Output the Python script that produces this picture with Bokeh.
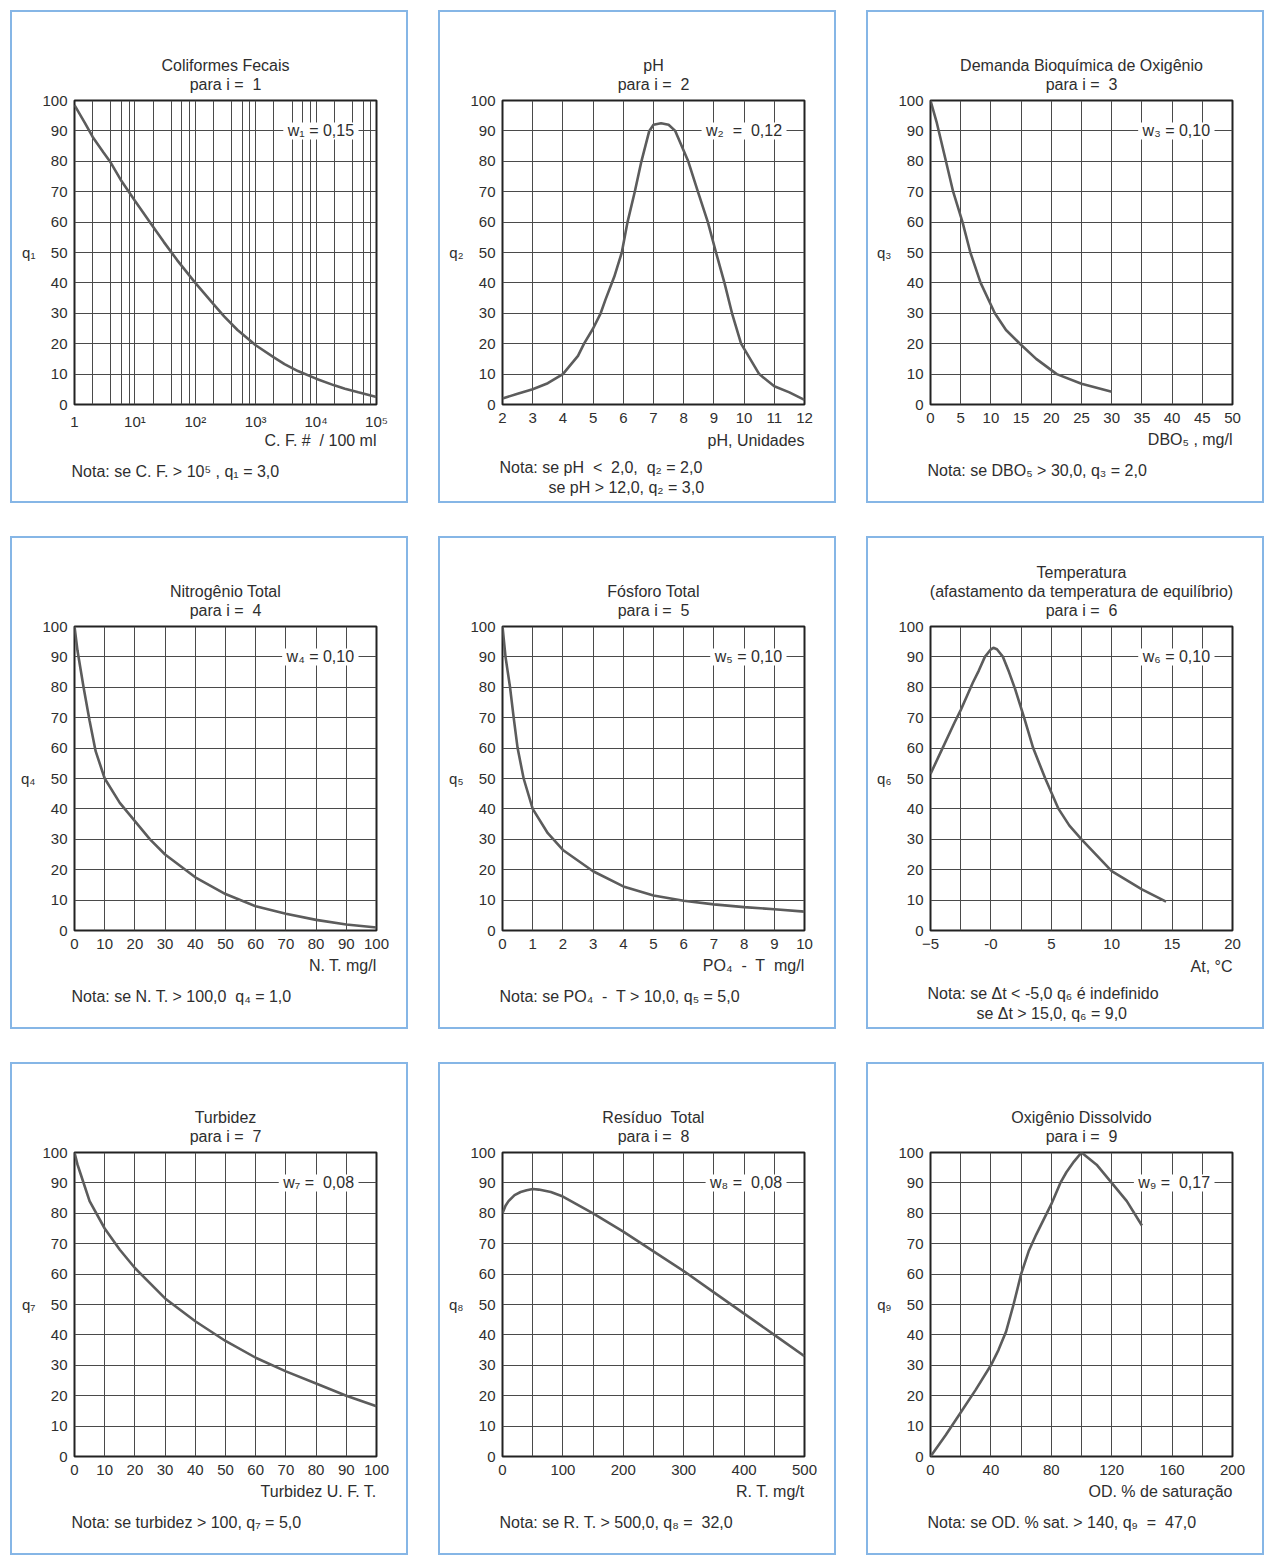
from bokeh.plotting import figure
from bokeh.models import Range1d, FixedTicker, Label, Title
from bokeh.layouts import column, row
from bokeh.embed import file_html
from bokeh.resources import INLINE

# ---------------- data ----------------
cf_x = [1, 1.5, 2, 3, 4, 6, 10, 20, 30, 50, 100, 200, 300, 500, 1000, 2000, 3000,
        5000, 10000, 20000, 30000, 50000, 100000]
cf_q = [98.5, 92.5, 88, 83, 79.5, 73.5, 67, 58.5, 53.5, 47.5, 40, 33, 29, 24.5, 19.5,
        15.5, 13.3, 11, 8.5, 6.3, 5.2, 4, 2.5]

ph_x = [2, 2.5, 3, 3.5, 4, 4.5, 4.7, 5, 5.25, 5.41, 5.7, 5.95, 6.14, 6.38, 6.6, 6.86,
        7.0, 7.25, 7.5, 7.72, 8.15, 8.47, 8.8, 9.07, 9.35, 9.6, 9.9, 10.5, 11, 11.5, 12]
ph_q = [2, 3.5, 5, 7, 10, 16, 20, 25, 30, 34.5, 42, 50, 60, 70, 80, 90,
        92, 92.5, 92, 90, 80, 70, 60, 50, 40, 30, 20, 10, 6, 4, 1.5]

dbo_x = [0, 1, 2.5, 3.75, 5.3, 6.6, 8.3, 10.65, 12.5, 14.8, 17.5, 20.9, 25, 30]
dbo_q = [100, 93, 80.5, 70, 60, 50, 40, 30, 24.5, 20, 15, 10, 6.8, 4.2]

nt_x = [0, 1, 2, 3, 5, 7, 10, 15, 20, 25, 30, 40, 50, 60, 70, 80, 90, 100]
nt_q = [100, 92, 86, 80, 69, 59, 50, 42, 36, 30, 25, 17.5, 12, 8, 5.5, 3.5, 2, 1]

pt_x = [0, 0.1, 0.25, 0.37, 0.5, 0.7, 1, 1.5, 2, 3, 4, 5, 6, 7, 8, 9, 10]
pt_q = [100, 90, 80, 70, 60, 50, 40, 32, 26.5, 19.5, 14.5, 11.5, 9.8, 8.6, 7.7, 7, 6.2]

tp_x = [-5, -4, -3, -2.5, -2, -1.5, -1, -0.5, 0, 0.2, 0.5, 1, 1.5, 2, 2.75, 3.5, 4.5,
        5.6, 6.5, 7.5, 10, 12.5, 14.5]
tp_q = [51.5, 60, 68.5, 72.5, 77, 81.5, 85.5, 90, 92.5, 93, 92.5, 90, 85, 79.5, 70, 60,
        50, 40, 34.5, 30, 19.5, 13.5, 9.5]

tu_x = [0, 1, 2, 5, 10, 15, 20, 30, 40, 50, 60, 70, 80, 90, 100]
tu_q = [100, 96, 93, 84, 75, 68, 62, 52, 44.5, 38, 32.5, 28, 24, 20, 16.5]

rt_x = [0, 5, 10, 20, 30, 40, 50, 60, 80, 100, 150, 200, 250, 300, 350, 400, 450, 500]
rt_q = [80, 82.5, 84, 86, 87, 87.6, 88, 87.8, 87, 85.5, 80, 74, 67.5, 61, 54, 47, 40, 33]

od_x = [0, 10, 20, 30, 40, 45, 50, 55, 60, 65, 70, 80, 86, 90, 95, 100, 110, 120, 130, 140]
od_q = [0, 7, 14.5, 22, 30, 35, 41, 50, 60, 67.5, 73, 83, 90, 93.5, 97, 100, 96, 90, 84, 76]

NB = "\u00a0"
titles = [
    ["Coliformes Fecais", "para i =" + NB + " 1"],
    ["pH", "para i =" + NB + " 2"],
    ["Demanda Bioquímica de Oxigênio", "para i =" + NB + " 3"],
    ["Nitrogênio Total", "para i =" + NB + " 4"],
    ["Fósforo Total", "para i =" + NB + " 5"],
    ["Temperatura", "(afastamento da temperatura de equilíbrio)", "para i =" + NB + " 6"],
    ["Turbidez", "para i =" + NB + " 7"],
    ["Resíduo" + NB + " Total", "para i =" + NB + " 8"],
    ["Oxigênio Dissolvido", "para i =" + NB + " 9"],
]
weights = ["w₁ = 0,15", "w₂" + NB + " =" + NB + " 0,12", "w₃ = 0,10", "w₄ = 0,10",
           "w₅ = 0,10", "w₆ = 0,10", "w₇ =" + NB + " 0,08", "w₈ =" + NB + " 0,08",
           "w₉ =" + NB + " 0,17"]
y_labels = ["q₁", "q₂", "q₃", "q₄", "q₅", "q₆", "q₇", "q₈", "q₉"]
x_labels = ["C. F. #" + NB + " / 100 ml", "pH, Unidades", "DBO₅ , mg/l", "N. T. mg/l",
            "PO₄" + NB + " -" + NB + " T" + NB + " mg/l", "At, °C", "Turbidez U. F. T.",
            "R. T. mg/t", "OD. % de saturação"]
notes = [
    ["Nota: se C. F. > 10⁵ , q₁ = 3,0"],
    ["Nota: se pH" + NB + " <" + NB + " 2,0," + NB + " q₂ = 2,0", "se pH > 12,0, q₂ = 3,0"],
    ["Nota: se DBO₅ > 30,0, q₃ = 2,0"],
    ["Nota: se N. T. > 100,0" + NB + " q₄ = 1,0"],
    ["Nota: se PO₄" + NB + " -" + NB + " T > 10,0, q₅ = 5,0"],
    ["Nota: se Δt < -5,0 q₆ é indefinido", "se Δt > 15,0, q₆ = 9,0"],
    ["Nota: se turbidez > 100, q₇ = 5,0"],
    ["Nota: se R. T. > 500,0, q₈ =" + NB + " 32,0"],
    ["Nota: se OD. % sat. > 140, q₉" + NB + " =" + NB + " 47,0"],
]
y_ticks = [0, 10, 20, 30, 40, 50, 60, 70, 80, 90, 100]
cf_ticks = [1, 10, 100, 1000, 10000, 100000]
cf_tick_labels = ["1", "10¹", "10²", "10³", "10⁴", "10⁵"]

# ---------------- styling ----------------
FONT = "Liberation Sans"
TXT = "#2e2e2e"
GRID = "#4a4a4a"
CURVE = "#5c5c5c"
BLUE = "#86b6e6"
W, H = 394, 489

panels = [
    dict(x=cf_x, q=cf_q, xr=(1, 100000), log=True, ticks=cf_ticks,
         minor=[m * 10 ** d for d in range(5) for m in (2, 4, 6, 8)],
         over=dict(zip(cf_ticks, cf_tick_labels))),
    dict(x=ph_x, q=ph_q, xr=(2, 12), log=False, ticks=list(range(2, 13)), minor=[], over={}),
    dict(x=dbo_x, q=dbo_q, xr=(0, 50), log=False, ticks=list(range(0, 51, 5)), minor=[], over={}),
    dict(x=nt_x, q=nt_q, xr=(0, 100), log=False, ticks=list(range(0, 101, 10)), minor=[], over={}),
    dict(x=pt_x, q=pt_q, xr=(0, 10), log=False, ticks=list(range(0, 11)), minor=[], over={}),
    dict(x=tp_x, q=tp_q, xr=(-5, 20), log=False, ticks=[-5, 0, 5, 10, 15, 20],
         minor=[-2.5, 2.5, 7.5, 12.5, 17.5], over={0: "-0"}),
    dict(x=tu_x, q=tu_q, xr=(0, 100), log=False, ticks=list(range(0, 101, 10)), minor=[], over={}),
    dict(x=rt_x, q=rt_q, xr=(0, 500), log=False, ticks=list(range(0, 501, 100)),
         minor=[50, 150, 250, 350, 450], over={}),
    dict(x=od_x, q=od_q, xr=(0, 200), log=False, ticks=list(range(0, 201, 40)),
         minor=[20, 60, 100, 140, 180], over={}),
]


def ttl(text, align="center", offset=0, standoff=0, size="16px", lh=1.0):
    return Title(text=text, align=align, offset=offset, standoff=standoff,
                 text_font=FONT, text_font_size=size, text_font_style="normal",
                 text_color=TXT, text_line_height=lh)


boxes = []
for i, cfg in enumerate(panels):
    x0, x1 = cfg["xr"]
    p = figure(width=W, height=H, x_range=Range1d(x0, x1), y_range=Range1d(0, 100),
               x_axis_type="log" if cfg["log"] else "linear",
               output_backend="svg", toolbar_location=None,
               min_border_left=62, min_border_right=30, min_border_top=88,
               min_border_bottom=97)
    p.background_fill_color = "white"
    p.border_fill_color = "white"
    p.outline_line_color = "#222222"
    p.outline_line_width = 2
    for ax in (p.xaxis[0], p.yaxis[0]):
        ax.axis_line_color = None
        ax.major_tick_line_color = None
        ax.minor_tick_line_color = None
        ax.major_tick_in = 0
        ax.major_tick_out = 0
        ax.minor_tick_in = 0
        ax.minor_tick_out = 0
        ax.major_label_text_font = FONT
        ax.major_label_text_font_size = "15px"
        ax.major_label_text_color = TXT
    p.xaxis.ticker = FixedTicker(ticks=cfg["ticks"], minor_ticks=cfg["minor"])
    p.yaxis.ticker = FixedTicker(ticks=y_ticks)
    if cfg["over"]:
        p.xaxis.major_label_overrides = cfg["over"]
    p.xaxis.major_label_standoff = 8
    p.yaxis.major_label_standoff = 7
    p.yaxis.axis_label = y_labels[i]
    p.yaxis.axis_label_orientation = "horizontal"
    p.yaxis.axis_label_standoff = 4
    p.yaxis.axis_label_text_font = FONT
    p.yaxis.axis_label_text_font_size = "15px"
    p.yaxis.axis_label_text_font_style = "normal"
    p.yaxis.axis_label_text_color = TXT
    for g in (p.xgrid[0], p.ygrid[0]):
        g.grid_line_color = GRID
        g.grid_line_width = 1
        g.grid_line_alpha = 1
    p.xgrid.minor_grid_line_color = GRID
    p.xgrid.minor_grid_line_width = 1

    p.line(cfg["x"], cfg["q"], line_color=CURVE, line_width=2.6)

    # title lines above the frame: a small spacer first, then lines from the
    # bottom one upwards (each added title sits farther from the frame)
    p.add_layout(ttl(NB, size="6px"), "above")
    for t in reversed(titles[i]):
        p.add_layout(ttl(t), "above")

    # weight label inside the frame
    p.add_layout(Label(x=x1, y=90, x_offset=-18, text=NB + weights[i] + NB,
                       text_align="right", text_baseline="middle", text_font=FONT,
                       text_font_size="16px", text_color=TXT,
                       background_fill_color="white"))

    # x label and notes below the axis
    nl = notes[i]
    if cfg["log"]:
        s_lab, s_note, lh = -6, 30, 1.1
    elif len(nl) > 1:
        s_lab, s_note, lh = 8, 8, 1.22
    else:
        s_lab, s_note, lh = 6, 18, 1.1
    p.add_layout(ttl(x_labels[i], align="right", standoff=s_lab), "below")
    note_text = nl[0] if len(nl) == 1 else nl[0] + "\n" + NB * 11 + nl[1]
    p.add_layout(ttl(note_text, align="left", offset=-3, standoff=s_note, lh=lh),
                 "below")

    boxes.append(column(p, styles={"border": "2px solid " + BLUE}))

layout = column(row(boxes[0], boxes[1], boxes[2], spacing=30),
                row(boxes[3], boxes[4], boxes[5], spacing=30),
                row(boxes[6], boxes[7], boxes[8], spacing=30),
                spacing=33, margin=(10, 0, 0, 10))

open("out.html", "w").write(file_html(layout, INLINE))
